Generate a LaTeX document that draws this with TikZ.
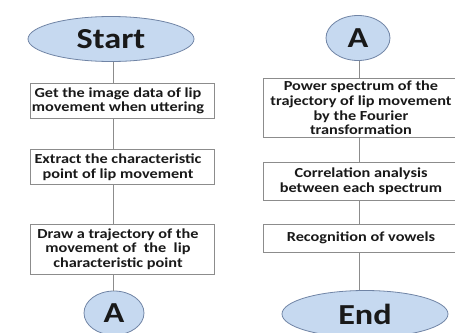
\documentclass[tikz,border=0pt]{standalone}
\usepackage{fontspec}
\setmainfont{Carlito}[FakeStretch=1.18]
\usetikzlibrary{shapes.geometric}
\definecolor{ovalfill}{RGB}{198,217,240}
\definecolor{ovalline}{RGB}{112,132,165}
\definecolor{boxline}{RGB}{140,140,140}
\definecolor{txtcol}{RGB}{25,25,25}
\tikzset{
  oval/.style={ellipse, draw=ovalline, line width=0.8pt, fill=ovalfill, inner sep=0pt,
    font=\fontsize{29}{31}\selectfont\bfseries, text=txtcol},
  stepbox/.style={draw=boxline, line width=0.8pt, fill=white, inner sep=0pt, minimum width=184pt},
  steptext/.style={align=center, inner sep=0pt, text=txtcol,
    font=\fontsize{13.8}{14.6}\selectfont\bfseries},
  link/.style={draw=boxline, line width=0.8pt}
}
\begin{document}
\begin{tikzpicture}[x=1pt,y=-1pt]
\useasboundingbox (0,0) rectangle (455,332);
\clip (0,0) rectangle (455,332);
% left column
\node[oval, minimum width=166pt, minimum height=45pt] (start) at (111,39) {Start};
\node[stepbox, minimum height=35pt] (b1) at (122,101) {};
\node[steptext] (t1) at (118,101) {Get the image data of lip\\movement when uttering};
\node[stepbox, minimum height=35pt] (b2) at (122,167) {};
\node[steptext] (t2) at (118,167) {Extract the characteristic\\point of lip movement};
\node[stepbox, minimum height=50pt] (b3) at (122,249) {};
\node[steptext] (t3) at (118,249) {Draw a trajectory of the\\movement of \ the \ lip\\characteristic point};
\node[oval, minimum width=60pt, minimum height=44pt] (a1) at (114,313) {A};
\coordinate (lx1) at (113,0);
\draw[link] (start.south -| lx1) -- (b1.north -| lx1);
\draw[link] (b1.south -| lx1) -- (b2.north -| lx1);
\draw[link] (b2.south -| lx1) -- (b3.north -| lx1);
\draw[link] (b3.south -| lx1) -- (a1.north -| lx1);
% right column
\node[oval, minimum width=64pt, minimum height=45pt] (a2) at (358,38) {A};
\node[stepbox, minimum width=198pt, minimum height=59pt] (b4) at (362,108) {};
\node[steptext] (t4) at (361,108) {Power spectrum of the\\trajectory of lip movement\\by the Fourier\\transformation};
\node[stepbox, minimum width=198pt, minimum height=38pt] (b5) at (362,181) {};
\node[steptext] (t5) at (361,181) {Correlation analysis\\between each spectrum};
\node[stepbox, minimum width=198pt, minimum height=28pt] (b6) at (362,238) {};
\node[steptext] (t6) at (361,238) {Recognition of vowels};
\node[oval, minimum width=166pt, minimum height=47pt] (end) at (365,314) {End};
\coordinate (lx2) at (359,0);
\draw[link] (a2.south -| lx2) -- (b4.north -| lx2);
\draw[link] (b4.south -| lx2) -- (b5.north -| lx2);
\draw[link] (b5.south -| lx2) -- (b6.north -| lx2);
\draw[link] (b6.south -| lx2) -- (end.north -| lx2);
\end{tikzpicture}
\end{document}
